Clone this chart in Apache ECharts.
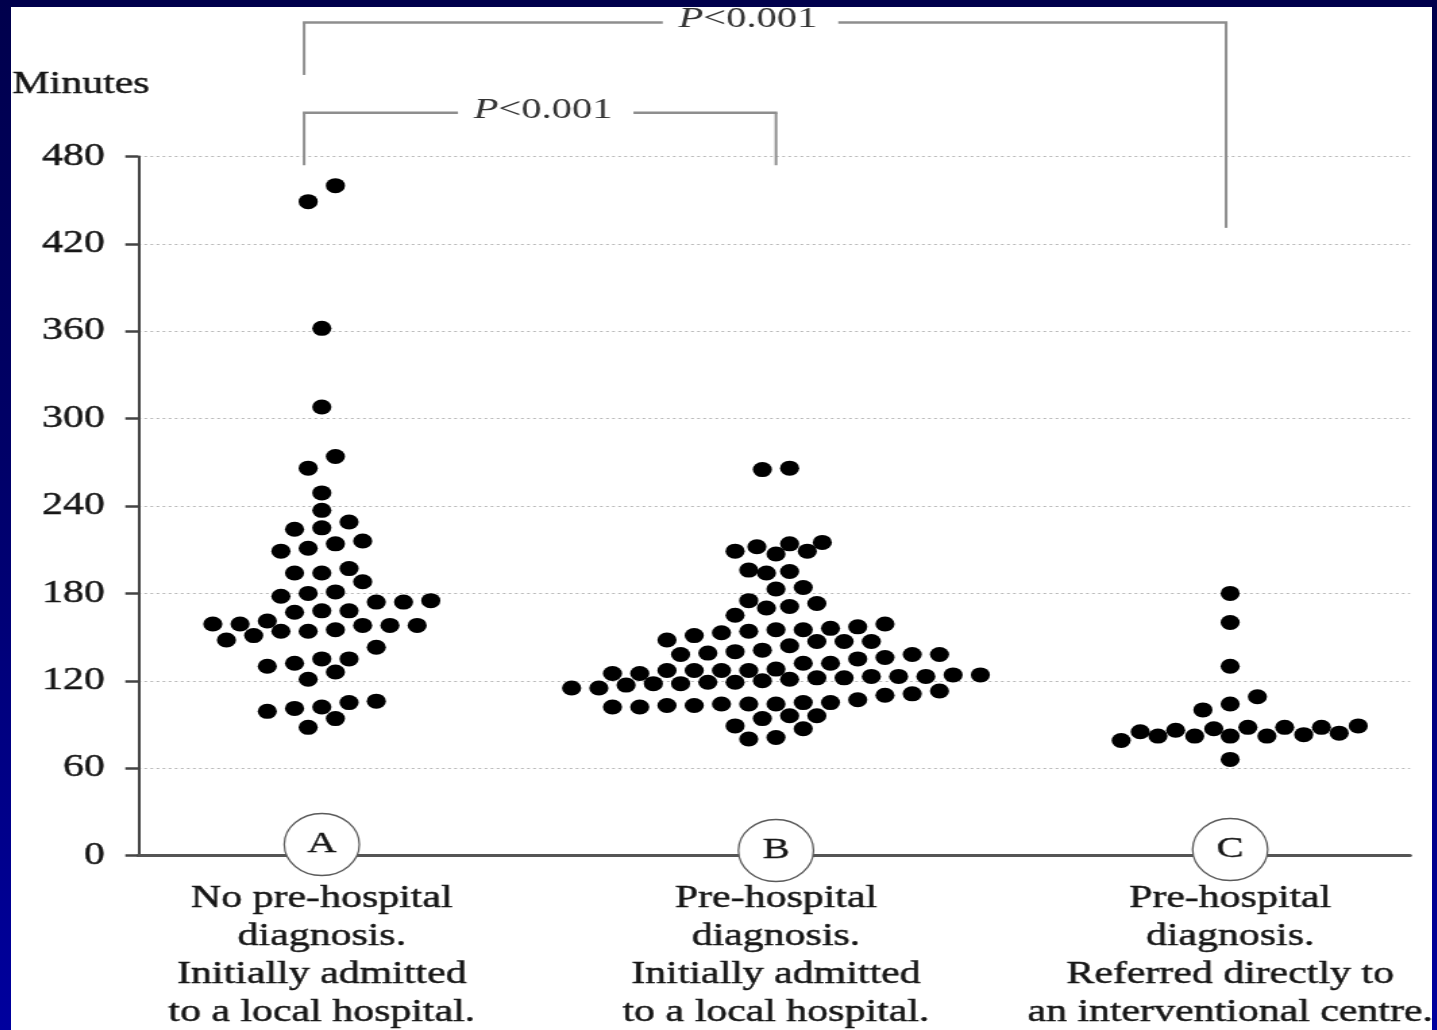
<!DOCTYPE html>
<html>
<head>
<meta charset="utf-8">
<script src="https://cdn.jsdelivr.net/npm/echarts@6/dist/echarts.min.js"></script>
<style>
html,body{margin:0;padding:0;width:1437px;height:1030px;overflow:hidden;
  background:linear-gradient(to bottom,#00004c 0%,#000068 45%,#00009e 100%);}
#panel{position:absolute;left:11px;top:7px;width:1421px;height:1023px;background:#fff;overflow:hidden;}
#chart{position:absolute;left:0;top:0;width:1053px;height:1023px;transform:scaleX(1.35);transform-origin:0 0;}
</style>
</head>
<body>
<div id="panel"><div id="chart"></div></div>
<script>
// ---- data ----
const categories = [
  'No pre-hospital\ndiagnosis.\nInitially admitted\nto a local hospital.',
  'Pre-hospital\ndiagnosis.\nInitially admitted\nto a local hospital.',
  'Pre-hospital\ndiagnosis.\nReferred directly to\nan interventional centre.'
];
const groupLetters = ['A', 'B', 'C'];
const groupCenters = [1, 2, 3];
const yTicks = [0, 60, 120, 180, 240, 300, 360, 420, 480];
const yAxisTitle = 'Minutes';

// each point: [horizontal swarm offset (half dot-spacings from group centre), minutes]
const groupA = [[1,460],[-1,449],[0,362],[0,308],[1,274],[-1,266],[0,249],[0,237],[-2,224],[0,225],[2,229],
  [-3,209],[-1,211],[1,214],[3,216],[-2,194],[0,194],[2,197],[3,188],[-3,178],[-1,180],[1,181],[4,174],[6,174],[8,175],
  [-2,167],[0,168],[2,168],[-8,159],[-6,159],[-4,161],[-3,154],[-1,154],[1,155],[3,158],[5,158],[7,158],[-7,148],[-5,151],
  [4,143],[-4,130],[-2,132],[0,135],[2,135],[1,126],[-1,121],[-4,99],[-2,101],[0,102],[2,105],[4,106],[1,94],[-1,88]];
const groupB = [[-1,265],[1,266],[-3,209],[-1.4,212],[0,207],[1,214],[2.3,209],[3.4,215],[-2,196],[-0.7,194],[1,195],
  [0,183],[2,184],[-2,175],[-0.7,170],[1,171],[3,173],[-3,165],[-8,148],[-6,151],[-4,153],[-2,154],[0,155],[2,155],[4,156],
  [6,157],[8,159],[-7,138],[-5,139],[-3,140],[-1,141],[1,144],[3,147],[5,147],[7,147],[2,132],[4,132],[6,135],[8,136],
  [10,138],[12,138],[-12,125],[-10,125],[-8,127],[-6,127],[-4,127],[-2,127],[0,128],[-11,117],[-9,118],[-7,118],[-5,119],
  [-3,119],[-1,120],[1,121],[3,122],[5,122],[7,123],[9,123],[11,123],[13,124],[15,124],[-15,115],[-13,115],[-12,102],
  [-10,102],[-8,103],[-6,103],[-4,104],[-2,104],[0,104],[2,105],[4,105],[6,107],[8,110],[10,111],[12,113],[-1,94],[1,96],
  [3,96],[-3,89],[2,87],[-2,80],[0,81]];
const groupC = [[0,180],[0,160],[0,130],[-2,100],[0,104],[2,109],[-8,79],[-6.6,85],[-5.3,82],[-4,86],[-2.6,82],
  [-1.2,87],[0,82],[1.3,88],[2.7,82],[4,88],[5.4,83],[6.7,88],[8,84],[9.4,89],[0,66]];

// significance brackets (x in axis units, y in minutes)
const bracketFrom = [0.961, 0.961];
const bracketTo = [2.000, 2.991];
const bracketLevel = [510, 572];
const bracketFromEnd = [474, 536];
const bracketToEnd = [474, 431];
const bracketLabelAt = [1.487, 1.938];
const pLabels = ['P<0.001', 'P<0.001'];

// ---- chart ----
const HALF_STEP = 0.03;
const FONT = '"Liberation Serif", "Times New Roman", serif';
const TEXT = '#161616';
const circleOffsets = [-11, -5, -6];
const groups = [groupA, groupB, groupC];

const chart = echarts.init(document.getElementById('chart'), null, {renderer: 'canvas'});

const option = {
  animation: false,
  backgroundColor: '#ffffff',
  grid: {left: 94.3, right: 16.7, top: 149.5, bottom: 174.5, containLabel: false, outerBoundsMode: 'none'},
  xAxis: {
    type: 'value', min: 0.596, max: 3.396,
    axisLine: {show: true, onZero: false, lineStyle: {color: '#555', width: 3}},
    axisTick: {show: false},
    splitLine: {show: false},
    axisLabel: {
      show: true, customValues: groupCenters,
      formatter: function (v) { return categories[Math.round(v) - 1] || ''; },
      fontFamily: FONT, fontSize: 31, lineHeight: 38, color: TEXT, margin: 24,
      textBorderColor: TEXT, textBorderWidth: 0.45,
      align: 'center', verticalAlign: 'top'
    }
  },
  yAxis: {
    type: 'value', min: yTicks[0], max: yTicks[yTicks.length - 1], interval: yTicks[1] - yTicks[0],
    axisLine: {show: true, lineStyle: {color: '#444', width: 2}},
    axisTick: {show: true, length: 9.6, lineStyle: {color: '#444', width: 2.5}},
    axisLabel: {margin: 24.7, fontFamily: FONT, fontSize: 31, color: TEXT, textBorderColor: TEXT, textBorderWidth: 0.45},
    splitLine: {show: true, lineStyle: {color: '#b8b8b8', width: 1, type: [2, 2.5]}}
  },
  series: groups.map(function (g, i) {
    return {
      type: 'scatter', name: groupLetters[i], silent: true,
      data: g.map(function (p) { return [groupCenters[i] + p[0] * HALF_STEP, p[1]]; }),
      symbol: 'circle', symbolSize: [14.2, 15],
      itemStyle: {color: '#000', opacity: 1},
      markPoint: {
        silent: true, symbol: 'circle', symbolSize: [55.6, 62],
        itemStyle: {color: '#fff', borderColor: '#5a5a5a', borderWidth: 1.3},
        label: {show: true, position: 'inside', formatter: groupLetters[i],
          fontFamily: FONT, fontSize: 30, color: TEXT, textBorderColor: TEXT, textBorderWidth: 0.3},
        data: [{coord: [groupCenters[i], 0], symbolOffset: [0, circleOffsets[i]]}]
      }
    };
  })
};
chart.setOption(option);

function px(x, y) { return chart.convertToPixel({gridIndex: 0}, [x, y]); }
const graphics = [];
const LINE = '#8e8e8e';
for (let i = 0; i < pLabels.length; i++) {
  const a = px(bracketFrom[i], bracketLevel[i]);
  const b = px(bracketTo[i], bracketLevel[i]);
  const aEnd = px(bracketFrom[i], bracketFromEnd[i]);
  const bEnd = px(bracketTo[i], bracketToEnd[i]);
  const t = px(bracketLabelAt[i], bracketLevel[i]);
  const gapL = 63, gapR = 67;
  graphics.push({type: 'line', silent: true, shape: {x1: a[0], y1: a[1], x2: aEnd[0], y2: aEnd[1]}, style: {stroke: LINE, lineWidth: 2}});
  graphics.push({type: 'line', silent: true, shape: {x1: b[0], y1: b[1], x2: bEnd[0], y2: bEnd[1]}, style: {stroke: LINE, lineWidth: 2}});
  graphics.push({type: 'line', silent: true, shape: {x1: a[0] - 1, y1: a[1], x2: t[0] - gapL, y2: t[1]}, style: {stroke: LINE, lineWidth: 2.5}});
  graphics.push({type: 'line', silent: true, shape: {x1: t[0] + gapR, y1: t[1], x2: b[0] + 1, y2: b[1]}, style: {stroke: LINE, lineWidth: 2.5}});
  const txt = pLabels[i];
  graphics.push({type: 'text', silent: true, x: t[0], y: t[1] - 3,
    style: {text: '{i|' + txt.charAt(0) + '}{n|' + txt.slice(1) + '}', align: 'center', verticalAlign: 'middle',
      fontFamily: FONT, fontSize: 30, fill: '#333',
      rich: {i: {fontFamily: FONT, fontSize: 30, fontStyle: 'italic', color: '#333'},
             n: {fontFamily: FONT, fontSize: 30, color: '#333'}}}});
}
graphics.push({type: 'text', silent: true, x: 1, y: 78,
  style: {text: yAxisTitle, align: 'left', verticalAlign: 'middle', fontFamily: FONT, fontSize: 31, fill: TEXT,
    stroke: TEXT, lineWidth: 0.45}});
chart.setOption({graphic: graphics});
</script>
</body>
</html>
